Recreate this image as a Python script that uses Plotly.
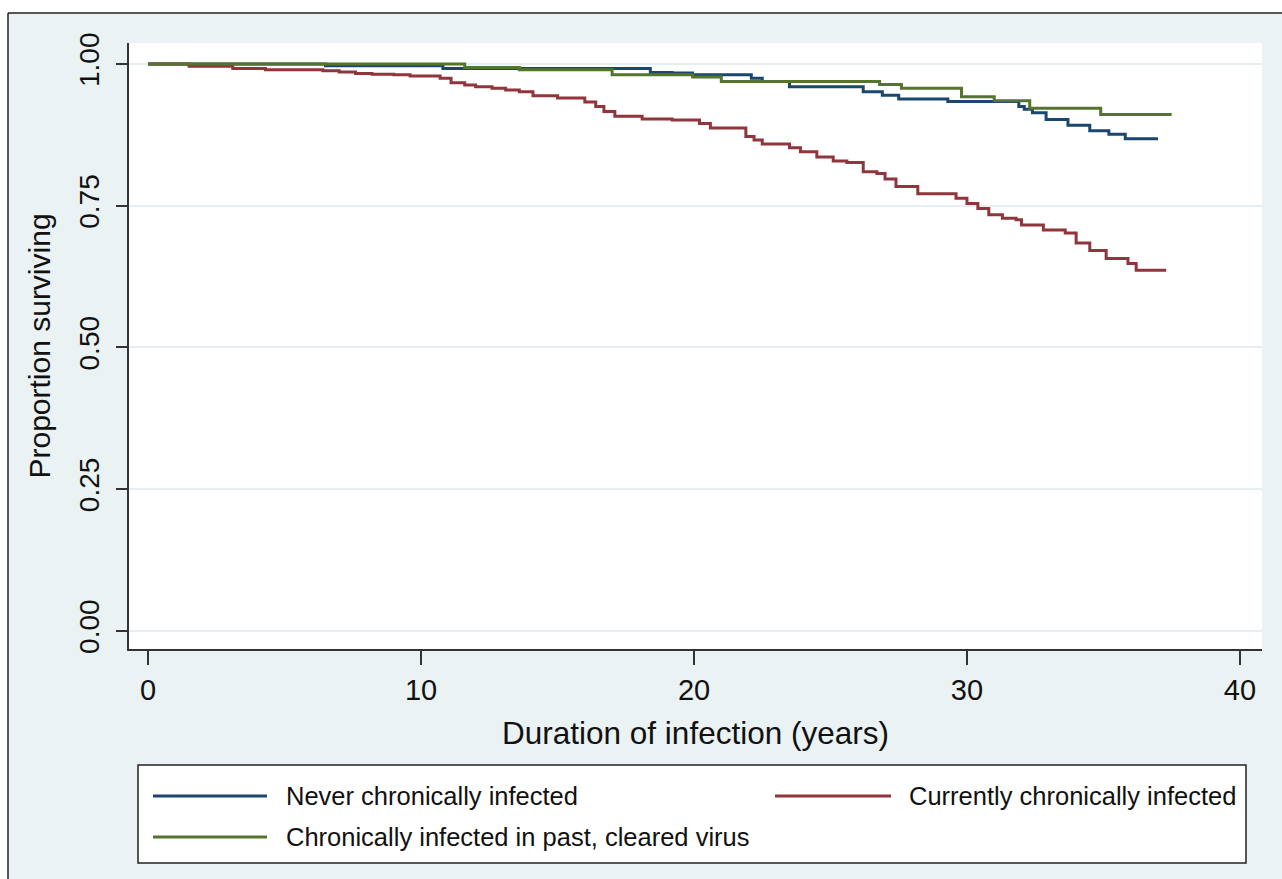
import plotly.graph_objects as go

# ---- data ----
never_t = [0, 6.5, 10.8, 18.4, 19.2, 19.95, 22.1, 22.5, 23.5, 26.2, 26.9, 27.5,
           29.3, 31.9, 32.1, 32.4, 32.9, 33.7, 34.5, 35.2, 35.8, 37.0]
never_s = [1.0, 0.997, 0.992, 0.985, 0.984, 0.981, 0.975, 0.969, 0.960, 0.951, 0.945, 0.938,
           0.934, 0.925, 0.920, 0.914, 0.902, 0.892, 0.882, 0.876, 0.868, 0.868]

current_t = [0, 1.5, 3.1, 4.3, 6.4, 7.0, 7.6, 8.2, 9.0, 9.6, 10.7, 11.1, 11.6, 12.0, 12.6,
             13.1, 13.6, 14.1, 15.0, 16.0, 16.4, 16.7, 17.1, 18.1, 19.2, 20.2, 20.6, 21.9,
             22.2, 22.5, 23.5, 23.9, 24.5, 25.1, 25.6, 26.2, 26.7, 27.0, 27.4, 28.2, 29.6,
             30.0, 30.4, 30.8, 31.3, 31.8, 32.0, 32.8, 33.6, 34.0, 34.5, 35.1, 35.9, 36.2, 37.3]
current_s = [1.0, 0.996, 0.992, 0.990, 0.988, 0.986, 0.983, 0.982, 0.981, 0.979, 0.975, 0.967,
             0.963, 0.960, 0.957, 0.954, 0.951, 0.944, 0.940, 0.933, 0.925, 0.916, 0.908, 0.903,
             0.901, 0.895, 0.887, 0.872, 0.866, 0.859, 0.852, 0.845, 0.836, 0.829, 0.826, 0.810,
             0.807, 0.797, 0.784, 0.771, 0.763, 0.754, 0.745, 0.734, 0.728, 0.725, 0.716, 0.707,
             0.702, 0.684, 0.671, 0.657, 0.648, 0.636, 0.636]

past_t = [0, 11.6, 13.6, 17.0, 19.95, 21.0, 26.8, 27.6, 29.8, 31.0, 32.3, 34.9, 37.5]
past_s = [1.0, 0.994, 0.990, 0.981, 0.977, 0.969, 0.964, 0.957, 0.942, 0.935, 0.922, 0.911, 0.911]

series_names = ["Never chronically infected", "Currently chronically infected",
                "Chronically infected in past, cleared virus"]
series_colors = ["#1A476F", "#90353B", "#55752F"]

x_ticks = [0, 10, 20, 30, 40]
y_ticks = [0, 0.25, 0.5, 0.75, 1.0]

BG = "#EAF2F3"
FONT = "Liberation Sans, Arial, sans-serif"

fig = go.Figure()
for t, s, name, col in zip([never_t, current_t, past_t], [never_s, current_s, past_s],
                           series_names, series_colors):
    fig.add_trace(go.Scatter(x=t, y=s, mode="lines", name=name, line_shape="hv",
                             line=dict(color=col, width=3), showlegend=False))

W, H = 1282, 879
L, R, T, B = 129, 20, 43, 230
pw, ph = W - L - R, H - T - B

def px(x):
    return (x - L) / pw

def py(y):
    return (H - B - y) / ph

shapes = [
    # white strips outside the outer frame
    dict(type="rect", xref="paper", yref="paper", x0=px(-5), x1=px(8), y0=py(H + 5), y1=py(-5),
         fillcolor="white", line=dict(width=0), layer="above"),
    dict(type="rect", xref="paper", yref="paper", x0=px(-5), x1=px(W + 5), y0=py(13), y1=py(-5),
         fillcolor="white", line=dict(width=0), layer="above"),
    dict(type="line", xref="paper", yref="paper", x0=px(8), x1=px(8), y0=py(H + 5), y1=py(13),
         line=dict(color="#222222", width=1.5), layer="above"),
    dict(type="line", xref="paper", yref="paper", x0=px(8), x1=px(W + 5), y0=py(13), y1=py(13),
         line=dict(color="#222222", width=1.5), layer="above"),
    # legend box
    dict(type="rect", xref="paper", yref="paper", x0=px(138), x1=px(1246), y0=py(863), y1=py(765),
         fillcolor="white", line=dict(color="#222222", width=1.5), layer="above"),
]

legend_pos = [(153, 267, 284, 796), (775, 891, 907, 796), (153, 267, 284, 837)]
annotations = []
for (lx0, lx1, tx, ry), name, col in zip(legend_pos, series_names, series_colors):
    shapes.append(dict(type="line", xref="paper", yref="paper", x0=px(lx0), x1=px(lx1),
                       y0=py(ry), y1=py(ry), line=dict(color=col, width=2.8), layer="above"))
    annotations.append(dict(xref="paper", yref="paper", x=px(tx), y=py(ry), text=name,
                            showarrow=False, xanchor="left", yanchor="middle",
                            font=dict(family=FONT, size=25.5, color="#111111")))

fig.update_layout(
    width=W, height=H,
    margin=dict(l=L, r=R, t=T, b=B, pad=0),
    paper_bgcolor=BG, plot_bgcolor="white",
    shapes=shapes, annotations=annotations,
    font=dict(family=FONT, color="#111111"),
    xaxis=dict(range=[-0.70, 40.81], tickvals=x_ticks, ticktext=[str(v) for v in x_ticks],
               showgrid=False, zeroline=False, showline=True, linecolor="#333333", linewidth=2,
               ticks="outside", ticklen=14, tickwidth=2, tickcolor="#333333",
               tickfont=dict(size=29, family=FONT, color="#111111"),
               title=dict(text="Duration of infection (years)", font=dict(size=31.5, family=FONT, color="#111111"),
                          standoff=17)),
    yaxis=dict(range=[-0.032, 1.037], tickvals=y_ticks, tickformat=".2f",
               showgrid=True, gridcolor="#E6EEF1", gridwidth=2, zeroline=False,
               showline=True, linecolor="#333333", linewidth=2,
               ticks="outside", ticklen=11, tickwidth=2, tickcolor="#333333", tickangle=-90,
               ticklabelstandoff=6,
               tickfont=dict(size=28, family=FONT, color="#111111"),
               title=dict(text="Proportion surviving", font=dict(size=30, family=FONT, color="#111111"),
                          standoff=14)),
)

fig.write_html("out.html")
